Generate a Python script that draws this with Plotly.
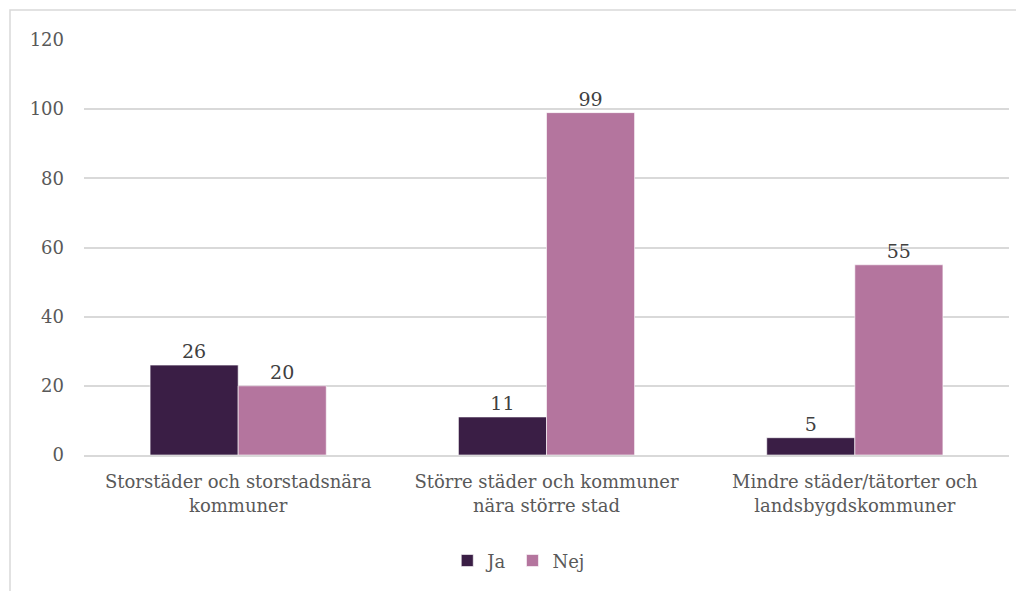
import plotly.graph_objects as go

categories = ["Storstäder och storstadsnära<br>kommuner",
              "Större städer och kommuner<br>nära större stad",
              "Mindre städer/tätorter och<br>landsbygdskommuner"]
ja_values = [26, 11, 5]
nej_values = [20, 99, 55]
series_names = ["Ja", "Nej"]
colors = ["#3A1E45", "#B4759E"]

FONT = "DejaVu Serif"

fig = go.Figure()
for name, vals, col in zip(series_names, [ja_values, nej_values], colors):
    fig.add_trace(go.Bar(
        name=name, x=categories, y=vals,
        marker=dict(color=col, line=dict(color="rgba(255,255,255,0.6)", width=1)),
        text=[str(v) for v in vals], textposition="outside",
        textfont=dict(family=FONT, size=19, color="#404040"),
        cliponaxis=False,
    ))

fig.update_layout(
    width=1016, height=583,
    margin=dict(l=76, r=15, t=32, b=136),
    paper_bgcolor="white", plot_bgcolor="white",
    barmode="group", bargap=0.4286, bargroupgap=0,
    font=dict(family=FONT, size=18, color="#595959"),
    showlegend=True,
    legend=dict(orientation="h", x=0.47, xanchor="center", y=-0.255, yanchor="middle",
                font=dict(family=FONT, size=18, color="#595959"),
                itemwidth=30, tracegroupgap=0),
    xaxis=dict(showgrid=False, showline=True, linecolor="#D9D9D9", linewidth=1.5,
               tickfont=dict(family=FONT, size=18, color="#595959"),
               ticks="outside", ticklen=10, tickcolor="rgba(0,0,0,0)"),
    yaxis=dict(range=[0, 120], dtick=20, showgrid=True, gridcolor="#D9D9D9", gridwidth=1.5,
               zeroline=False, showline=False,
               tickfont=dict(family=FONT, size=18, color="#595959"),
               ticklabelstandoff=19),
    shapes=[dict(type="rect", xref="paper", yref="paper",
                 x0=(2 - 76) / 925, x1=1.2, y0=-0.6, y1=1 + 30 / 415,
                 line=dict(color="#D9D9D9", width=1.5), fillcolor="rgba(0,0,0,0)",
                 layer="below")],
)

fig.write_html("out.html")
